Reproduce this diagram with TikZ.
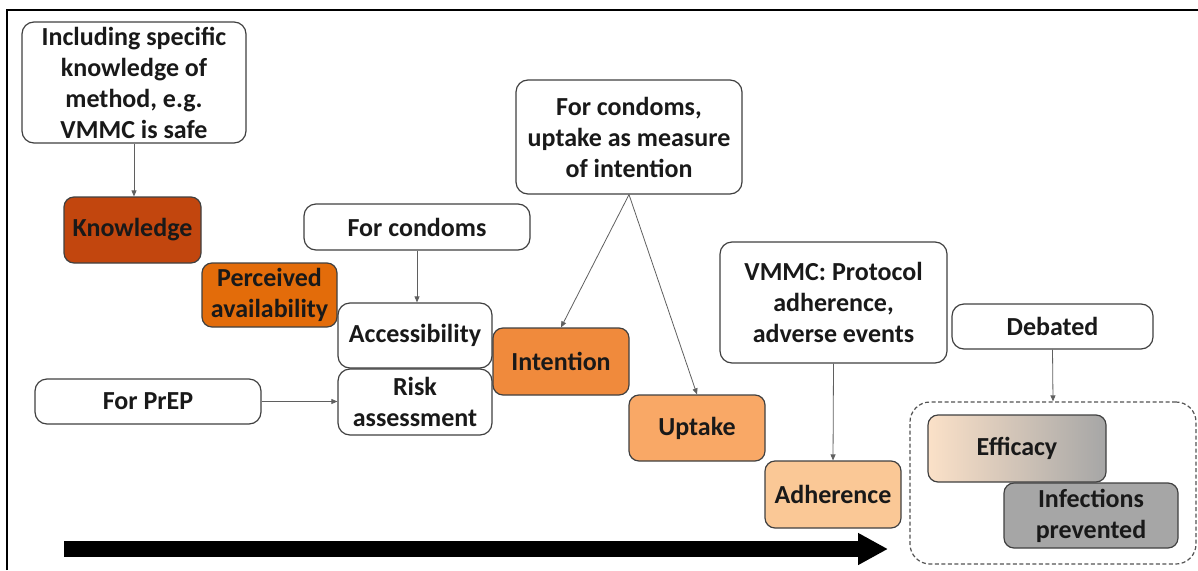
\documentclass[tikz,border=0pt]{standalone}
\usepackage{fontspec}
\setmainfont{Carlito}
\usetikzlibrary{arrows.meta}
\definecolor{knowC}{HTML}{C2460E}
\definecolor{percC}{HTML}{E36C0A}
\definecolor{intC}{HTML}{F08A3C}
\definecolor{uptC}{HTML}{F9A866}
\definecolor{adhC}{HTML}{FAC896}
\definecolor{effL}{HTML}{FBE1C8}
\definecolor{greyC}{HTML}{A6A6A6}
\definecolor{edgeC}{HTML}{404040}
\definecolor{linkC}{HTML}{5F5F5F}
\tikzset{
  box/.style={draw=edgeC, line width=1.2pt, rounded corners=12pt, fill=white,
    inner sep=0pt, align=center, font=\fontsize{26}{31}\selectfont\bfseries,
    text=black!90},
  stage/.style={box, draw=black!75, rounded corners=10pt},
  link/.style={draw=linkC, line width=0.8pt, -{Triangle[length=6pt,width=5pt]}},
  sz/.style 2 args={minimum width=#1pt, minimum height=#2pt},
}
\begin{document}
\begin{tikzpicture}[x=1pt,y=-1pt]
\useasboundingbox (0,0) rectangle (1198,570);
% frame edges
\draw[line width=2pt] (7,570) -- (7,10) -- (1198,10);

% annotation boxes
\node[box, sz={224}{121}] (inc) at (134,82.5) {Including specific\\knowledge of\\method, e.g.\\VMMC is safe};
\node[box, sz={226}{46}] (cond) at (417,227) {For condoms};
\node[box, sz={226}{45}] (prep) at (148,401.5) {For PrEP};
\node[box, sz={226}{114}] (cup) at (629,137) {For condoms,\\uptake as measure\\of intention};
\node[box, sz={227}{121}] (vmmc) at (833.5,302.5) {VMMC: Protocol\\adherence,\\adverse events};
\node[box, sz={201}{45}] (deb) at (1052.5,326.5) {Debated};

% outcome group
\node[draw=edgeC!90, line width=1.2pt, dash pattern=on 4pt off 2.5pt, rounded corners=20pt,
  minimum width=286pt, minimum height=162pt, inner sep=0pt] (grp) at (1053,483) {};

% stages of the cascade
\node[stage, fill=knowC, sz={137}{66}] (know) at (132.5,230) {Knowledge};
\node[stage, fill=percC, sz={135}{64}] (perc) at (269.5,295) {Perceived\\availability};
\node[box, sz={154}{65}] (acc) at (415,335.5) {Accessibility};
\node[box, sz={154}{66}] (risk) at (415,402) {Risk\\assessment};
\node[stage, fill=intC, sz={136}{67}] (inten) at (561,361.5) {Intention};
\node[stage, fill=uptC, sz={136}{66}] (upt) at (697,428) {Uptake};
\node[stage, fill=adhC, sz={136}{67}] (adh) at (833,494.5) {Adherence};
\node[stage, left color=effL, right color=greyC, sz={178}{67}] (eff) at (1017,448.5) {Efficacy};
\node[stage, fill=greyC, sz={174}{65}] (inf) at (1091,515.5) {Infections\\prevented};

% connectors
\draw[link] (inc.south) -- (inc.south |- know.north);
\draw[link] (cond.south) -- (cond.south |- acc.north);
\draw[link] (prep.east) -- (prep.east -| risk.west);
\draw[link] (cup.south) -- (inten.north);
\draw[link] (cup.south) -- (upt.north);
\draw[link] (vmmc.south) -- (adh.north);
\draw[link] (deb.south) -- (grp.north);

% time arrow
\coordinate (t0) at (64,549);
\coordinate (t1) at (888,549);
\draw[line width=16pt, -{Triangle[length=30pt,width=30pt]}] (t0) -- (t1);
\end{tikzpicture}
\end{document}
